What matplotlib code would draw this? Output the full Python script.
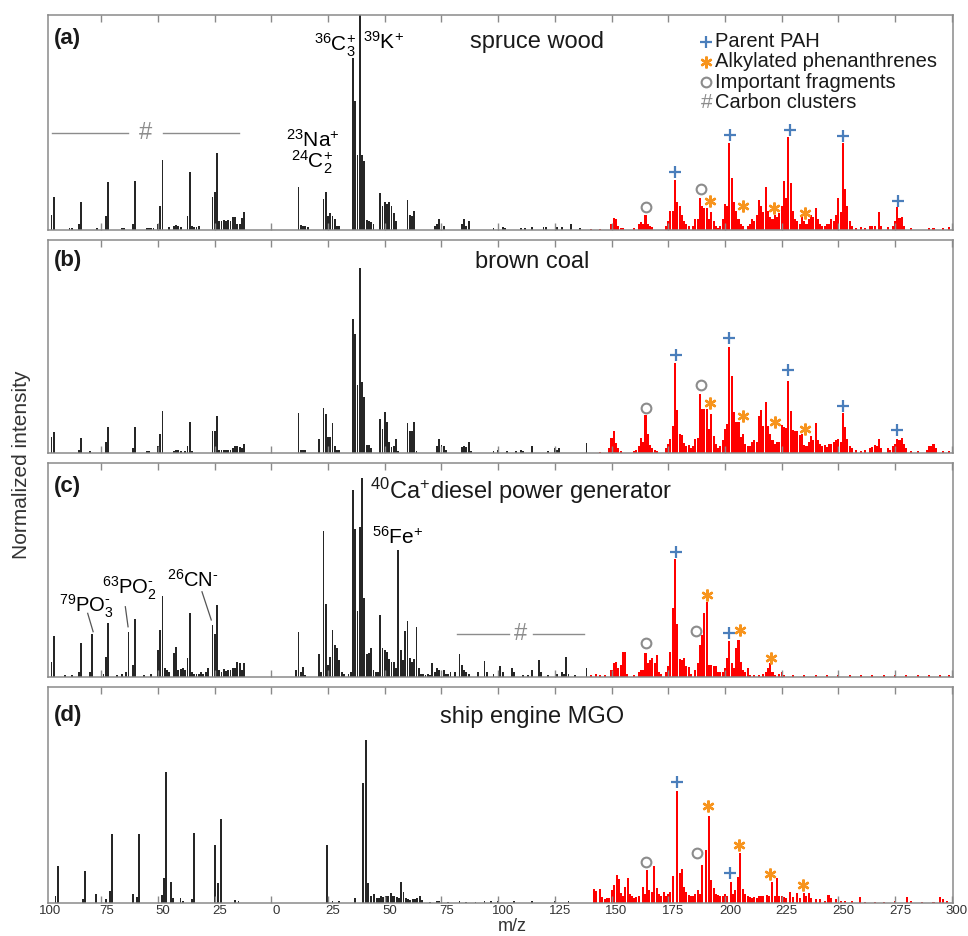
import numpy as np
import matplotlib
matplotlib.use('Agg')
import matplotlib.pyplot as plt
from matplotlib.transforms import ScaledTranslation

plt.rcParams['font.family'] = ['Liberation Sans', 'DejaVu Sans']
plt.rcParams['mathtext.fontset'] = 'custom'
plt.rcParams['mathtext.rm'] = 'Liberation Sans'
plt.rcParams['mathtext.it'] = 'Liberation Sans:italic'
plt.rcParams['mathtext.bf'] = 'Liberation Sans:bold'
plt.rcParams['mathtext.default'] = 'regular'

# ---- data: m/z -> normalized intensity (fraction of panel height) ----
# (a) spruce wood
a_neg = {97: 0.07, 96: 0.155, 89: 0.01, 88: 0.01, 85: 0.03, 84: 0.13, 77: 0.01, 73: 0.065, 72: 0.225,
         66: 0.008, 65: 0.008, 61: 0.03, 60: 0.23, 55: 0.008, 54: 0.01, 53: 0.01, 52: 0.01, 50: 0.03,
         49: 0.11, 48: 0.325, 45: 0.015, 43: 0.02, 42: 0.025, 41: 0.02, 40: 0.015, 37: 0.065, 36: 0.27,
         35: 0.02, 34: 0.015, 33: 0.015, 32: 0.02, 26: 0.155, 25: 0.178, 24: 0.357, 23: 0.04, 22: 0.04,
         21: 0.045, 20: 0.04, 19: 0.045, 18: 0.04, 17: 0.06, 16: 0.06, 15: 0.03, 14: 0.03, 13: 0.055, 12: 0.085}
a_pos = {12: 0.2, 13: 0.025, 14: 0.02, 15: 0.02, 16: 0.015, 23: 0.145, 24: 0.175, 25: 0.065, 26: 0.08,
         27: 0.065, 28: 0.05, 29: 0.02, 30: 0.02, 36: 0.8, 37: 0.6, 38: 0.35, 39: 1.1, 40: 0.35, 41: 0.32,
         42: 0.045, 43: 0.04, 44: 0.035, 45: 0.03, 48: 0.17, 49: 0.11, 50: 0.13, 51: 0.12, 52: 0.13,
         53: 0.11, 54: 0.08, 55: 0.04, 60: 0.14, 61: 0.07, 62: 0.065, 63: 0.09, 72: 0.02, 73: 0.03,
         74: 0.05, 75: 0.02, 76: 0.02, 84: 0.03, 85: 0.05, 86: 0.02, 87: 0.04, 98: 0.01, 102: 0.012,
         103: 0.01, 110: 0.01, 112: 0.01, 115: 0.015, 120: 0.012, 121: 0.015, 126: 0.012, 128: 0.012,
         132: 0.03, 136: 0.01,
         141: 0.005, 145: 0.005, 150: 0.03, 151: 0.054, 152: 0.05, 153: 0.02, 154: 0.01, 155: 0.008,
         160: 0.01, 162: 0.03, 163: 0.035, 164: 0.03, 165: 0.07, 166: 0.03, 167: 0.02, 168: 0.015,
         174: 0.02, 175: 0.04, 176: 0.09, 177: 0.09, 178: 0.233, 179: 0.13, 180: 0.11, 181: 0.07,
         182: 0.04, 183: 0.03, 184: 0.02, 186: 0.02, 187: 0.05, 188: 0.05, 189: 0.147, 190: 0.11,
         191: 0.1, 192: 0.1, 193: 0.05, 194: 0.085, 195: 0.04, 196: 0.02, 197: 0.01, 198: 0.02,
         199: 0.05, 200: 0.12, 201: 0.11, 202: 0.403, 203: 0.24, 204: 0.13, 205: 0.09, 206: 0.05,
         207: 0.03, 208: 0.02, 210: 0.02, 211: 0.03, 212: 0.05, 213: 0.04, 214: 0.07, 215: 0.14,
         216: 0.11, 217: 0.085, 218: 0.2, 219: 0.09, 220: 0.06, 221: 0.05, 222: 0.07, 223: 0.06,
         224: 0.08, 225: 0.11, 226: 0.23, 227: 0.15, 228: 0.434, 229: 0.22, 230: 0.09, 231: 0.05,
         232: 0.04, 233: 0.03, 234: 0.06, 235: 0.04, 236: 0.03, 237: 0.05, 238: 0.07, 239: 0.06,
         240: 0.1, 241: 0.05, 242: 0.03, 243: 0.02, 244: 0.02, 245: 0.03, 246: 0.03, 247: 0.05,
         248: 0.04, 249: 0.07, 250: 0.15, 251: 0.085, 252: 0.406, 253: 0.19, 254: 0.11, 255: 0.04,
         256: 0.02, 258: 0.01, 260: 0.015, 262: 0.01, 264: 0.02, 265: 0.02, 266: 0.02, 268: 0.085,
         269: 0.02, 272: 0.015, 274: 0.02, 275: 0.04, 276: 0.108, 277: 0.055, 278: 0.06, 279: 0.02,
         282: 0.008, 290: 0.01, 292: 0.01, 296: 0.008, 299: 0.015}

# (b) brown coal
b_neg = {97: 0.072, 96: 0.096, 85: 0.015, 84: 0.067, 80: 0.008, 73: 0.05, 72: 0.12, 61: 0.02,
         60: 0.122, 55: 0.01, 54: 0.01, 50: 0.03, 49: 0.088, 48: 0.196, 43: 0.01, 42: 0.012, 41: 0.015,
         40: 0.01, 38: 0.01, 37: 0.03, 36: 0.146, 35: 0.01, 26: 0.1, 25: 0.1, 24: 0.174, 23: 0.015,
         22: 0.015, 21: 0.015, 20: 0.015, 19: 0.015, 18: 0.015, 17: 0.02, 16: 0.03, 15: 0.03,
         14: 0.025, 13: 0.02, 12: 0.04}
b_pos = {12: 0.185, 13: 0.015, 14: 0.015, 15: 0.012, 21: 0.063, 23: 0.208, 24: 0.18, 25: 0.075,
         26: 0.072, 27: 0.14, 28: 0.03, 29: 0.015, 30: 0.012, 36: 0.627, 37: 0.558, 38: 0.318,
         39: 0.867, 40: 0.334, 41: 0.26, 42: 0.036, 43: 0.036, 44: 0.02, 48: 0.158, 49: 0.11, 50: 0.19,
         51: 0.146, 52: 0.049, 53: 0.028, 54: 0.031, 55: 0.064, 56: 0.01, 60: 0.138, 61: 0.1, 62: 0.1,
         63: 0.146, 64: 0.01, 73: 0.03, 74: 0.064, 75: 0.036, 76: 0.03, 77: 0.015, 84: 0.028, 85: 0.03,
         86: 0.028, 87: 0.049, 88: 0.01, 98: 0.01, 100: 0.012, 104: 0.01, 108: 0.01, 110: 0.012,
         111: 0.01, 115: 0.03, 122: 0.01, 125: 0.02, 126: 0.015, 127: 0.02, 139: 0.044,
         145: 0.005, 149: 0.02, 150: 0.067, 151: 0.1, 152: 0.044, 153: 0.02, 154: 0.01, 160: 0.01,
         161: 0.015, 162: 0.03, 163: 0.067, 164: 0.05, 165: 0.177, 166: 0.09, 167: 0.036, 168: 0.02,
         169: 0.015, 170: 0.01, 174: 0.02, 175: 0.04, 176: 0.063, 177: 0.125, 178: 0.423, 179: 0.2,
         180: 0.09, 181: 0.083, 182: 0.044, 183: 0.03, 184: 0.036, 185: 0.02, 186: 0.03, 187: 0.063,
         188: 0.067, 189: 0.274, 190: 0.204, 191: 0.204, 192: 0.204, 193: 0.11, 194: 0.182, 195: 0.078,
         196: 0.04, 197: 0.02, 198: 0.03, 199: 0.06, 200: 0.11, 201: 0.135, 202: 0.495, 203: 0.36,
         204: 0.193, 205: 0.146, 206: 0.146, 207: 0.075, 208: 0.09, 209: 0.04, 210: 0.03, 211: 0.03,
         212: 0.05, 213: 0.06, 214: 0.05, 215: 0.17, 216: 0.2, 217: 0.127, 218: 0.24, 219: 0.125,
         220: 0.088, 221: 0.06, 222: 0.04, 223: 0.05, 224: 0.05, 225: 0.13, 226: 0.12, 227: 0.114,
         228: 0.337, 229: 0.196, 230: 0.107, 231: 0.103, 232: 0.1, 233: 0.083, 234: 0.09, 235: 0.036,
         236: 0.03, 237: 0.05, 238: 0.078, 239: 0.06, 240: 0.138, 241: 0.06, 242: 0.04, 243: 0.03,
         244: 0.035, 245: 0.025, 246: 0.04, 247: 0.04, 248: 0.05, 249: 0.06, 250: 0.063, 251: 0.05,
         252: 0.185, 253: 0.12, 254: 0.063, 255: 0.03, 256: 0.02, 258: 0.015, 260: 0.01, 262: 0.015,
         264: 0.02, 265: 0.025, 266: 0.036, 267: 0.03, 268: 0.063, 269: 0.02, 272: 0.02, 273: 0.015,
         274: 0.03, 275: 0.04, 276: 0.063, 277: 0.06, 278: 0.067, 279: 0.04, 280: 0.02, 282: 0.01,
         285: 0.008, 289: 0.015, 290: 0.03, 291: 0.03, 292: 0.04, 293: 0.02, 296: 0.008, 299: 0.01}

# (c) diesel power generator
c_neg = {97: 0.067, 96: 0.19, 91: 0.01, 88: 0.01, 85: 0.02, 84: 0.156, 80: 0.023, 79: 0.198,
         74: 0.015, 73: 0.094, 72: 0.253, 68: 0.01, 66: 0.015, 64: 0.02, 63: 0.21, 61: 0.055, 60: 0.27,
         56: 0.01, 53: 0.015, 50: 0.125, 49: 0.22, 48: 0.38, 47: 0.04, 46: 0.03, 45: 0.02, 43: 0.11,
         42: 0.14, 41: 0.03, 40: 0.035, 39: 0.04, 38: 0.03, 37: 0.089, 36: 0.3, 35: 0.02, 34: 0.015,
         33: 0.015, 32: 0.015, 31: 0.02, 30: 0.015, 29: 0.02, 28: 0.04, 26: 0.242, 25: 0.2, 24: 0.336,
         23: 0.03, 22: 0.02, 21: 0.035, 20: 0.025, 19: 0.03, 18: 0.03, 17: 0.04, 16: 0.04, 15: 0.067,
         14: 0.063, 13: 0.03, 12: 0.063}
c_pos = {11: 0.03, 12: 0.21, 13: 0.02, 14: 0.047, 15: 0.01, 21: 0.105, 22: 0.02, 23: 0.683, 24: 0.34,
         25: 0.055, 26: 0.094, 27: 0.22, 28: 0.148, 29: 0.133, 30: 0.078, 31: 0.02, 32: 0.015,
         34: 0.015, 35: 0.02, 36: 0.875, 37: 0.69, 38: 0.308, 39: 0.703, 40: 0.933, 41: 0.367,
         42: 0.105, 43: 0.11, 44: 0.133, 45: 0.03, 46: 0.02, 47: 0.02, 48: 0.29, 49: 0.136, 50: 0.125,
         51: 0.114, 52: 0.083, 53: 0.067, 54: 0.07, 55: 0.04, 56: 0.594, 57: 0.125, 58: 0.078,
         59: 0.214, 60: 0.26, 61: 0.086, 62: 0.067, 63: 0.083, 64: 0.234, 65: 0.042, 66: 0.015,
         67: 0.015, 68: 0.01, 69: 0.015, 70: 0.01, 71: 0.063, 72: 0.02, 73: 0.04, 74: 0.03, 75: 0.02,
         76: 0.03, 77: 0.015, 78: 0.015, 79: 0.02, 81: 0.02, 83: 0.106, 84: 0.055, 85: 0.03, 86: 0.02,
         87: 0.015, 91: 0.02, 94: 0.073, 95: 0.02, 98: 0.015, 101: 0.05, 102: 0.02, 106: 0.042,
         107: 0.02, 111: 0.01, 113: 0.01, 115: 0.03, 118: 0.078, 119: 0.02, 122: 0.01, 126: 0.015,
         128: 0.02, 129: 0.015, 130: 0.094, 131: 0.015, 134: 0.01, 139: 0.042,
         141: 0.008, 143: 0.015, 145: 0.01, 147: 0.01, 150: 0.03, 151: 0.063, 152: 0.067, 153: 0.04,
         154: 0.055, 155: 0.117, 156: 0.117, 157: 0.015, 160: 0.01, 162: 0.02, 163: 0.03, 164: 0.03,
         165: 0.11, 166: 0.063, 167: 0.078, 168: 0.089, 169: 0.063, 170: 0.1, 171: 0.023, 172: 0.015,
         174: 0.02, 175: 0.05, 176: 0.114, 177: 0.32, 178: 0.55, 179: 0.245, 180: 0.083, 181: 0.078,
         182: 0.086, 183: 0.05, 184: 0.047, 185: 0.015, 187: 0.03, 188: 0.063, 189: 0.15, 190: 0.195,
         191: 0.297, 192: 0.35, 193: 0.055, 194: 0.055, 195: 0.052, 196: 0.052, 197: 0.02, 198: 0.02,
         199: 0.02, 200: 0.04, 201: 0.089, 202: 0.167, 203: 0.063, 204: 0.04, 205: 0.133, 206: 0.172,
         207: 0.07, 208: 0.03, 209: 0.02, 210: 0.039, 211: 0.01, 213: 0.01, 215: 0.01, 217: 0.015,
         218: 0.02, 219: 0.039, 220: 0.063, 221: 0.023, 222: 0.01, 224: 0.015, 225: 0.023, 226: 0.01,
         230: 0.008, 235: 0.008, 240: 0.008, 245: 0.008, 250: 0.008, 255: 0.008, 260: 0.008,
         265: 0.008, 270: 0.008, 275: 0.008, 280: 0.008, 285: 0.008, 290: 0.008, 295: 0.008, 299: 0.008}

# (d) ship engine MGO (peak positions)
d_neg = {95.2: 0.031, 94.2: 0.172, 83.2: 0.015, 82.3: 0.149, 77.2: 0.039, 72.8: 0.015, 71.3: 0.056,
         70.2: 0.319, 61.0: 0.039, 59.2: 0.025, 58.2: 0.319, 48.2: 0.036, 47.2: 0.113, 46.3: 0.608,
         44.2: 0.098, 43.3: 0.02, 40.1: 0.02, 38.9: 0.01, 35.0: 0.015, 34.2: 0.325, 24.7: 0.268,
         23.5: 0.09, 22.3: 0.387, 15.9: 0.012, 14.5: 0.008}
d_pos = {24.5: 0.27, 27: 0.01, 30: 0.008, 37: 0.02, 40.3: 0.557, 41.7: 0.755, 42.7: 0.09, 43.8: 0.031,
         45.4: 0.039, 46.5: 0.02, 47.5: 0.02, 48.5: 0.03, 49.4: 0.025, 50.5: 0.03, 51.5: 0.03,
         52.6: 0.043, 53.5: 0.03, 54.3: 0.03, 55.4: 0.025, 56.3: 0.02, 57.3: 0.096, 58.3: 0.05,
         59.3: 0.02, 60.3: 0.015, 61.3: 0.012, 62.3: 0.015, 63.3: 0.015, 64.3: 0.02, 65.4: 0.031,
         66.4: 0.012, 70: 0.005, 73: 0.008, 74: 0.01, 78: 0.005, 83: 0.008, 86: 0.005, 90: 0.005,
         94: 0.006, 97: 0.008, 100: 0.006, 107: 0.006, 115: 0.008, 125: 0.008, 131: 0.008,
         142.1: 0.062, 143.3: 0.056, 144.8: 0.062, 145.8: 0.028, 147: 0.015, 148: 0.02, 149: 0.02,
         150.2: 0.06, 151.2: 0.082, 152.3: 0.128, 153.1: 0.108, 154.2: 0.043, 155.1: 0.03, 156.1: 0.074,
         157.1: 0.113, 158: 0.04, 159: 0.03, 160: 0.02, 161: 0.025, 162: 0.03, 163.7: 0.074,
         164.6: 0.04, 165.6: 0.152, 166.7: 0.059, 167.7: 0.05, 168.9: 0.17, 170.1: 0.067, 171: 0.04,
         172: 0.03, 173: 0.051, 174: 0.03, 175: 0.04, 176: 0.05, 177: 0.124, 178.9: 0.52, 180: 0.139,
         181.1: 0.155, 182.1: 0.074, 183: 0.05, 184: 0.035, 185: 0.03, 186: 0.03, 187: 0.04,
         188: 0.059, 189: 0.04, 189.9: 0.175, 191.6: 0.245, 192.8: 0.402, 194: 0.105, 195: 0.067,
         196: 0.04, 197: 0.035, 198: 0.03, 199: 0.03, 200: 0.04, 201: 0.03, 202.7: 0.098, 203.7: 0.04,
         204.6: 0.059, 205.6: 0.118, 206.8: 0.229, 208: 0.062, 209: 0.04, 210: 0.03, 211: 0.025,
         212: 0.02, 213: 0.025, 214: 0.02, 215: 0.03, 216: 0.03, 217: 0.03, 218.6: 0.036, 219.5: 0.03,
         220.8: 0.098, 222: 0.03, 223: 0.113, 224: 0.03, 225: 0.03, 226: 0.025, 227: 0.02,
         228.8: 0.051, 230: 0.025, 231.8: 0.046, 233: 0.02, 234.7: 0.046, 235.7: 0.03, 236.9: 0.046,
         238: 0.02, 240: 0.015, 242: 0.015, 244: 0.01, 245.7: 0.036, 247: 0.02, 249: 0.015, 251: 0.01,
         253: 0.01, 256: 0.008, 259.7: 0.025, 262: 0.005, 266: 0.005, 270: 0.005, 275: 0.008,
         280.3: 0.025, 282: 0.01, 287: 0.005, 292: 0.005, 295: 0.028, 296: 0.015, 298: 0.01}

# peak markers (m/z, label level)
a_pah = [(178.1, 0.271), (202.1, 0.442), (228.5, 0.465), (252.3, 0.437), (276.2, 0.136)]
a_frag = [(165.0, 0.108), (189.5, 0.189)]
a_alk = [(193.6, 0.135), (207.9, 0.112), (221.5, 0.10), (235.5, 0.078)]
b_pah = [(178.4, 0.459), (202.0, 0.538), (228.0, 0.386), (252.3, 0.219), (276.0, 0.107)]
b_frag = [(165.0, 0.208), (189.5, 0.318)]
b_alk = [(193.6, 0.232), (208.0, 0.172), (222.0, 0.146), (235.5, 0.111)]
c_pah = [(178.6, 0.586), (202.0, 0.203)]
c_frag = [(165.4, 0.156), (187.2, 0.214)]
c_alk = [(192.3, 0.383), (206.6, 0.219), (220.5, 0.09)]
d_pah = [(178.8, 0.562), (202.2, 0.139)]
d_frag = [(165.0, 0.19), (187.5, 0.229)]
d_alk = [(192.6, 0.449), (206.1, 0.268), (220.1, 0.133), (234.4, 0.082)]

titles = ['spruce wood', 'brown coal', r'$^{40}$Ca$^{+}$diesel power generator', 'ship engine MGO']
letters = ['(a)', '(b)', '(c)', '(d)']
RED_FROM = 140

DARK = '#262626'
RED = '#ff0000'
BLUE = '#4a7ebb'
ORANGE = '#f7941d'
GREY = '#8c8c8c'
FRAME = '#8a8a8a'

fig = plt.figure(figsize=(9.68, 9.36), dpi=100)
boxes = [(0.0496, 0.7543, 0.9349, 0.2297),
         (0.0496, 0.5163, 0.9349, 0.2278),
         (0.0496, 0.2770, 0.9349, 0.2280),
         (0.0496, 0.0356, 0.9349, 0.2301)]
panels = [(a_neg, a_pos, a_pah, a_frag, a_alk),
          (b_neg, b_pos, b_pah, b_frag, b_alk),
          (c_neg, c_pos, c_pah, c_frag, c_alk),
          (d_neg, d_pos, d_pah, d_frag, d_alk)]

title_xy = [(117.3, 0.874, 'center'), (115.1, 0.895, 'center'), (43.3, 0.872, 'left'), (115.0, 0.864, 'center')]
letter_y = [0.892, 0.901, 0.893, 0.868]

axes = []
for i, (box, (neg, pos, pah, frag, alk)) in enumerate(zip(boxes, panels)):
    ax = fig.add_axes(box)
    axes.append(ax)
    nm = np.array(list(neg.keys()), dtype=float)
    nh = np.array(list(neg.values()))
    pm = np.array(list(pos.keys()), dtype=float)
    ph = np.array(list(pos.values()))
    ax.bar(-nm, nh, width=0.8, color=DARK, linewidth=0)
    blk = pm < RED_FROM
    ax.bar(pm[blk], ph[blk], width=0.8, color=DARK, linewidth=0)
    ax.bar(pm[~blk], ph[~blk], width=0.9, color=RED, linewidth=0)

    px, py = zip(*pah)
    ax.plot(px, py, ls='none', marker='+', ms=9, mew=1.6, color=BLUE)
    fx, fy = zip(*frag)
    ax.plot(fx, fy, ls='none', marker='o', ms=7, mfc='none', mew=1.5, color=GREY)
    sx, sy = zip(*alk)
    ax.plot(sx, sy, ls='none', marker=(6, 2, 0), ms=8.5, mew=1.7, color=ORANGE)

    ax.set_xlim(-98.5, 300.6)
    ax.set_ylim(0, 1)
    ax.set_yticks([])
    ax.set_xticks(np.arange(-75, 301, 25))
    ax.tick_params(axis='x', direction='in', top=True, bottom=True, length=5, width=1,
                   color=FRAME, labelbottom=(i == 3), labelsize=9.5, labelcolor='#333333', pad=1.5)
    for s in ax.spines.values():
        s.set_color(FRAME)
        s.set_linewidth(1.1)

    ax.text(-95.7, letter_y[i], letters[i], fontsize=16, fontweight='bold', ha='left', va='center', color='#1a1a1a')
    tx, ty, tha = title_xy[i]
    ax.text(tx, ty, titles[i], fontsize=17, ha=tha, va='center', color='#1a1a1a')

# bottom tick labels as |m/z| on both polarities
axd = axes[3]
ticks = np.arange(-75, 301, 25)
axd.set_xticklabels([str(abs(t)) for t in ticks])
off = ScaledTranslation(5 / 100, 0, fig.dpi_scale_trans)
for lab in axd.get_xticklabels():
    lab.set_transform(lab.get_transform() + off)
axd.text(-100, -0.01, '100', transform=axd.get_xaxis_transform() + off, ha='center', va='top',
         fontsize=9.5, color='#333333', clip_on=False)

# panel (a) annotations
ax = axes[0]
ax.text(37.2, 0.86, r'$^{36}$C$_3^{+}$', fontsize=15, ha='right', va='center')
ax.text(40.6, 0.874, r'$^{39}$K$^{+}$', fontsize=15, ha='left', va='center')
ax.text(18.1, 0.42, r'$^{23}$Na$^{+}$', fontsize=15, ha='center', va='center')
ax.text(18.1, 0.316, r'$^{24}$C$_2^{+}$', fontsize=15, ha='center', va='center')
ax.plot([-96.7, -63.2], [0.45, 0.45], color=GREY, lw=1)
ax.plot([-47.9, -14.4], [0.45, 0.45], color=GREY, lw=1)
ax.text(-55.4, 0.45, '#', fontsize=17, color=GREY, ha='center', va='center')

leg_y = [0.876, 0.783, 0.687, 0.594]
leg_txt = ['Parent PAH', 'Alkylated phenanthrenes', 'Important fragments', 'Carbon clusters']
ax.plot([191.6], [leg_y[0]], marker='+', ms=9, mew=1.6, color=BLUE)
ax.plot([191.8], [leg_y[1]], marker=(6, 2, 0), ms=8.5, mew=1.7, color=ORANGE)
ax.plot([191.6], [leg_y[2]], marker='o', ms=7, mfc='none', mew=1.5, color=GREY)
ax.text(191.8, leg_y[3], '#', fontsize=15, color=GREY, ha='center', va='center')
for yy, tt in zip(leg_y, leg_txt):
    ax.text(195.8, yy, tt, fontsize=14.5, ha='left', va='center', color='#1a1a1a')

# panel (c) annotations
ax = axes[2]
ax.text(55.5, 0.656, r'$^{56}$Fe$^{+}$', fontsize=15, ha='center', va='center')
ax.text(-81.5, 0.33, r'$^{79}$PO$_3^{\text{-}}$', fontsize=14.5, ha='center', va='center')
ax.text(-62.5, 0.414, r'$^{63}$PO$_2^{\text{-}}$', fontsize=14.5, ha='center', va='center')
ax.text(-34.4, 0.453, r'$^{26}$CN$^{\text{-}}$', fontsize=14.5, ha='center', va='center')
ax.plot([-81.0, -78.6], [0.297, 0.211], color='#555555', lw=0.9)
ax.plot([-64.4, -63.2], [0.328, 0.234], color='#555555', lw=0.9)
ax.plot([-30.6, -26.5], [0.398, 0.266], color='#555555', lw=0.9)
ax.plot([81.9, 104.6], [0.2, 0.2], color=GREY, lw=1)
ax.plot([115.4, 137.7], [0.2, 0.2], color=GREY, lw=1)
ax.text(109.8, 0.2, '#', fontsize=17, color=GREY, ha='center', va='center')

fig.text(0.022, 0.504, 'Normalized intensity', rotation=90, fontsize=15, ha='center', va='center', color='#333333')
fig.text(0.529, 0.001, 'm/z', fontsize=13, ha='center', va='bottom', color='#333333')

fig.savefig('out.png', dpi=100)
